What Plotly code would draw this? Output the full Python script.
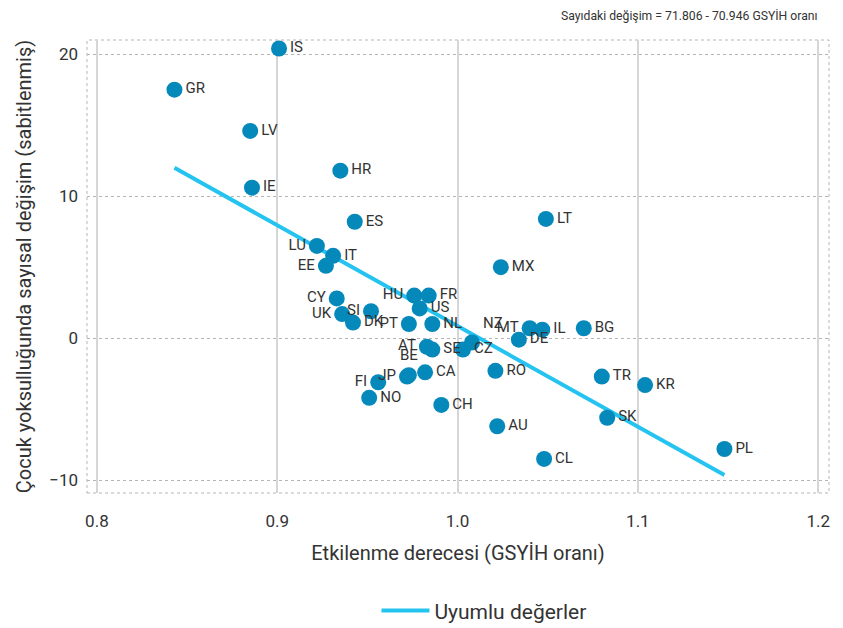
import plotly.graph_objects as go

countries = ["IS", "GR", "LV", "IE", "HR", "ES", "LU", "IT", "EE", "CY", "UK", "SI", "DK",
             "PT", "HU", "FR", "US", "NL", "NZ", "CZ", "AT", "SE", "FI", "JP", "BE", "CA",
             "NO", "CH", "RO", "AU", "MX", "LT", "MT", "IL", "DE", "BG", "TR", "KR", "SK",
             "PL", "CL"]
exposure = [0.901, 0.843, 0.885, 0.886, 0.935, 0.943, 0.922, 0.931, 0.927, 0.933, 0.936, 0.952, 0.942,
            0.973, 0.976, 0.984, 0.979, 0.986, 1.008, 1.003, 0.983, 0.986, 0.956, 0.972, 0.973, 0.982,
            0.951, 0.991, 1.021, 1.022, 1.024, 1.049, 1.040, 1.047, 1.034, 1.070, 1.080, 1.104, 1.083,
            1.148, 1.048]
change = [20.4, 17.5, 14.6, 10.6, 11.8, 8.2, 6.5, 5.8, 5.1, 2.8, 1.7, 1.9, 1.1,
          1.0, 3.0, 3.0, 2.1, 1.0, -0.3, -0.8, -0.6, -0.8, -3.1, -2.7, -2.6, -2.4,
          -4.2, -4.7, -2.3, -6.2, 5.0, 8.4, 0.7, 0.6, -0.1, 0.7, -2.7, -3.3, -5.6,
          -7.8, -8.5]
label_pos = ["middle right", "middle right", "middle right", "middle right", "middle right",
             "middle right", "middle left", "middle right", "middle left", "middle left",
             "middle left", "middle left", "middle right", "middle left", "middle left",
             "middle right", "middle right", "middle right", "top right", "middle right",
             "middle left", "middle right", "middle left", "middle left", "top center",
             "middle right", "middle right", "middle right", "middle right", "middle right",
             "middle right", "middle right", "middle left", "middle right", "middle right",
             "middle right", "middle right", "middle right", "middle right", "middle right",
             "middle right"]

intercept = 71.806
slope = -70.946
fit_x = [min(exposure), max(exposure)]
fit_y = [intercept + slope * v for v in fit_x]

x_ticks = [0.8, 0.9, 1.0, 1.1, 1.2]
y_ticks = [-10, 0, 10, 20]

FONT = "Roboto"
TXT = "#333333"

fig = go.Figure()
fig.add_trace(go.Scatter(
    x=fit_x, y=fit_y, mode="lines", name="Uyumlu değerler",
    line=dict(color="#25c3f0", width=4), showlegend=True, hoverinfo="skip"))
fig.add_trace(go.Scatter(
    x=exposure, y=change, mode="markers+text", text=countries,
    textposition=label_pos, textfont=dict(family=FONT, size=15, color=TXT),
    marker=dict(color="#0589ba", size=16, line=dict(width=0)),
    showlegend=False, cliponaxis=False))

fig.update_layout(
    width=835, height=620,
    margin=dict(l=79, r=14, t=32, b=135, autoexpand=False),
    paper_bgcolor="white", plot_bgcolor="white",
    font=dict(family=FONT, color=TXT),
    showlegend=True,
    legend=dict(orientation="h", x=0.535, xanchor="center", y=-0.26, yanchor="middle",
                itemwidth=48,
                font=dict(family=FONT, size=21, color=TXT)),
    xaxis=dict(range=[0.7945, 1.206], tickvals=x_ticks, tickformat=".1f", automargin=False,
               showgrid=True, gridcolor="#d6d6d6", gridwidth=1.5, zeroline=False,
               showline=False, ticks="", ticklabelstandoff=16,
               tickfont=dict(family=FONT, size=17, color=TXT),
               title=dict(text="Etkilenme derecesi (GSYİH oranı)", standoff=15,
                          font=dict(family=FONT, size=20, color=TXT))),
    yaxis=dict(range=[-10.9, 21.0], tickvals=y_ticks, automargin=False,
               showgrid=True, gridcolor="#b5b5b5", gridwidth=1, griddash="dot",
               zeroline=False, showline=False, ticks="", ticklabelstandoff=8,
               tickfont=dict(family=FONT, size=17, color=TXT),
               title=dict(text="Çocuk yoksulluğunda sayısal değişim (sabitlenmiş)", standoff=12,
                          font=dict(family=FONT, size=20, color=TXT))),
    shapes=[dict(type="rect", xref="paper", yref="paper", x0=0, x1=1, y0=0, y1=1,
                 line=dict(color="#b5b5b5", width=1, dash="dot"), layer="below")],
    annotations=[dict(text="Sayıdaki değişim = 71.806 - 70.946 GSYİH oranı",
                      xref="paper", yref="paper", x=0.988, y=1.055,
                      xanchor="right", yanchor="middle", showarrow=False,
                      font=dict(family=FONT, size=12.2, color=TXT))],
)

fig.write_html("out.html")
